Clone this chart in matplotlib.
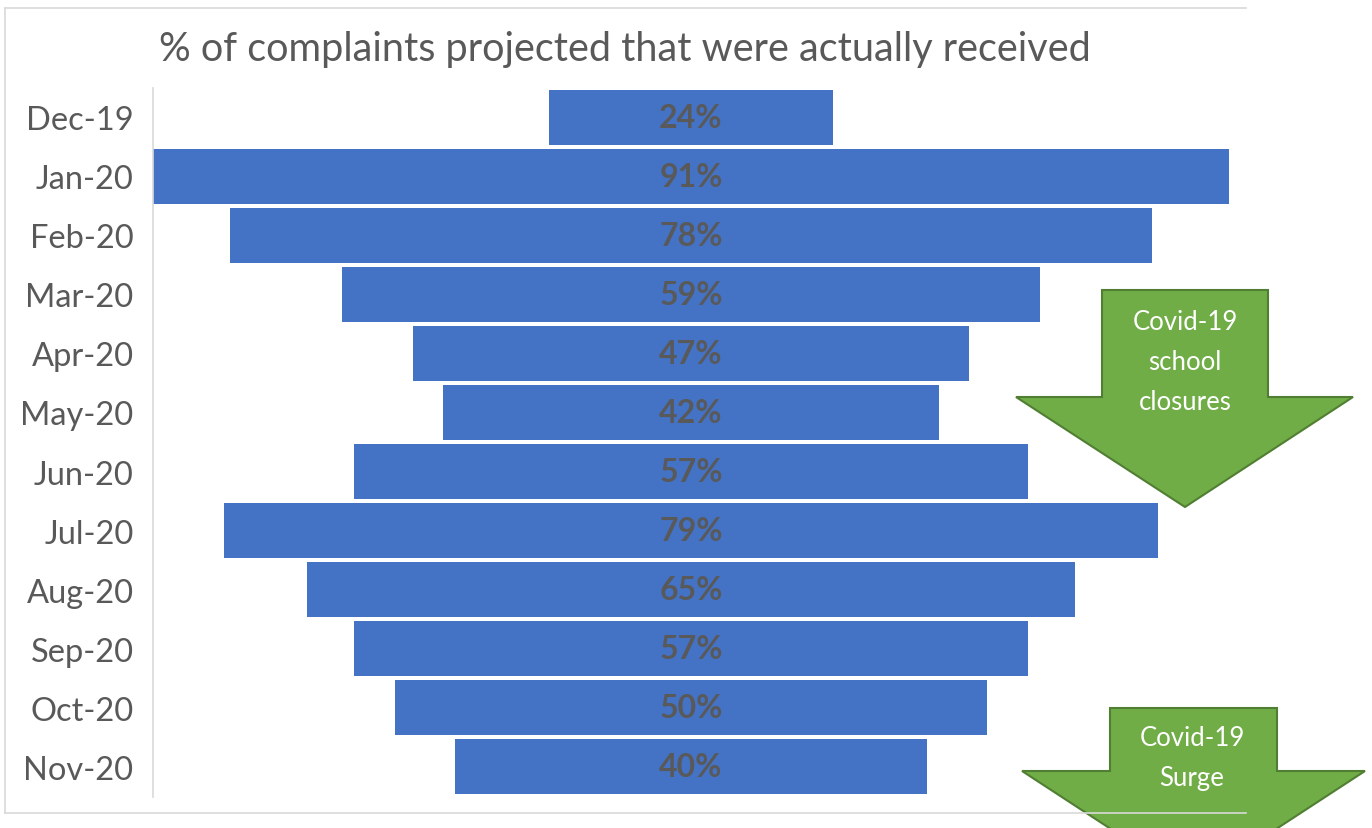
import matplotlib.pyplot as plt
from matplotlib.patches import Polygon
from matplotlib.lines import Line2D

plt.rcParams['font.family'] = ['Lato', 'DejaVu Sans']

# Data
months = ["Dec-19", "Jan-20", "Feb-20", "Mar-20", "Apr-20", "May-20",
          "Jun-20", "Jul-20", "Aug-20", "Sep-20", "Oct-20", "Nov-20"]
pct_received = [24, 91, 78, 59, 47, 42, 57, 79, 65, 57, 50, 40]

title = "% of complaints projected that were actually received"
arrow_texts = ["Covid-19\nschool\nclosures", "Covid-19\nSurge"]

W, H = 1372, 829
fig = plt.figure(figsize=(W / 100, H / 100), dpi=100)

# chart frame (light gray)
def px(x, y):
    return x / W, 1 - y / H

for (x0, y0), (x1, y1) in [((5, 9), (1246, 9)), ((5, 9), (5, 814)), ((5, 814), (1246, 814))]:
    a, b = px(x0, y0)
    c, d = px(x1, y1)
    fig.add_artist(Line2D([a, c], [b, d], color='#d9d9d9', lw=1.2))

ax = fig.add_axes([153 / W, 1 - 797.5 / H, 1076 / W, 709 / H])

# funnel: bars centred on 0
y = range(len(months))
lefts = [-v / 2 for v in pct_received]
ax.barh(y, pct_received, left=lefts, height=0.93, color='#4472C4')
for i, v in enumerate(pct_received):
    ax.text(0, i, f"{v}%", ha='center', va='center', fontsize=23,
            fontweight='bold', color='#595959')

ax.set_xlim(-max(pct_received) / 2, max(pct_received) / 2)
ax.set_ylim(len(months) - 0.5, -0.5)
ax.set_yticks(list(y))
ax.set_yticklabels(months, fontsize=23.5, color='#595959')
ax.tick_params(axis='y', length=0, pad=14)
ax.set_xticks([])
for s in ['top', 'right', 'bottom']:
    ax.spines[s].set_visible(False)
ax.spines['left'].set_color('#d9d9d9')
ax.spines['left'].set_linewidth(1.2)

fig.text(625 / W, 1 - 50 / H, title, ha='center', va='center',
         fontsize=28.5, color='#595959')

# block arrows
def block_arrow(sx0, sx1, top, wing_y, wx0, wx1, tip_y):
    cx = (sx0 + sx1) / 2
    pts = [(sx0, top), (sx1, top), (sx1, wing_y), (wx1, wing_y),
           (cx, tip_y), (wx0, wing_y), (sx0, wing_y)]
    poly = Polygon([px(*p) for p in pts], closed=True, transform=fig.transFigure,
                   facecolor='#70AD47', edgecolor='#507E32', lw=1.5, clip_on=False)
    fig.add_artist(poly)

block_arrow(1102, 1268, 291, 398, 1016, 1353, 508)
block_arrow(1110, 1277, 709, 772, 1022, 1365, 884)

fig.text(1185 / W, 1 - 362 / H, arrow_texts[0], ha='center', va='center',
         fontsize=18.5, color='white', linespacing=1.75)
fig.text(1192 / W, 1 - 759 / H, arrow_texts[1], ha='center', va='center',
         fontsize=18.5, color='white', linespacing=1.75)

fig.savefig("out.png", dpi=100)
